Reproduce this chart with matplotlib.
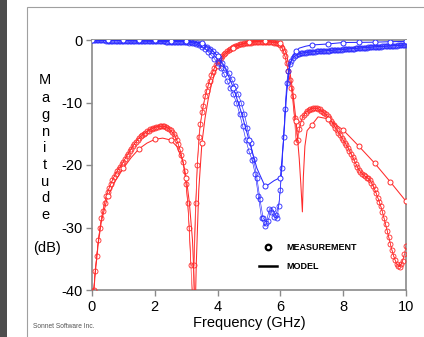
import matplotlib
matplotlib.use('Agg')
import matplotlib.pyplot as plt
import numpy as np
from matplotlib.lines import Line2D
from matplotlib.patches import Rectangle

plt.rcParams['font.family'] = ['Liberation Sans', 'DejaVu Sans']
plt.rcParams['axes.unicode_minus'] = False

# ---------------- data ----------------
meas_freq = [round(0.1 * i, 1) for i in range(101)]
meas2_freq = [round(0.05 + 0.1 * i, 2) for i in range(100)]

red_meas = [-44, -37, -32, -28.5, -26, -24.3, -23, -21.9, -21, -20.3,
            -19.5, -18.6, -17.8, -17.0, -16.3, -15.7, -15.2, -14.8, -14.5, -14.2,
            -14.0, -13.9, -13.8, -13.8, -14.0, -14.4, -15.0, -16.0, -17.5, -19.5,
            -23.0, -30.0, -42.0, -26.0, -15.5, -11.5, -9.0, -7.2, -5.6, -4.4,
            -3.5, -2.8, -2.2, -1.8, -1.4, -1.1, -0.9, -0.7, -0.6, -0.5,
            -0.4, -0.35, -0.3, -0.3, -0.3, -0.3, -0.3, -0.35, -0.4, -0.5,
            -0.8, -1.8, -3.7, -6.4, -9.0, -16.3, -14.2, -12.3, -11.6, -11.2,
            -11.0, -10.9, -11.0, -11.3, -11.7, -12.2, -12.9, -13.6, -14.4, -15.2,
            -16.0, -16.8, -17.7, -18.7, -19.8, -20.8, -21.4, -21.8, -22.1, -22.8,
            -23.9, -25.2, -26.6, -28.5, -30.5, -32.6, -34.5, -35.8, -36.3, -35.3,
            -33.0]

red_meas2 = [-40, -34.5, -30, -27.3, -25, -23.6, -22.4, -21.4, -20.6, -19.9,
             -19.0, -18.2, -17.4, -16.6, -16.0, -15.4, -15.0, -14.6, -14.3, -14.1,
             -13.9, -13.8, -13.8, -13.9, -14.2, -14.7, -15.5, -16.7, -18.4, -21.0,
             -26.0, -36.0, -36.0, -20.0, -13.5, -10.5, -8.2, -6.5, -5.1, -4.0,
             -3.2, -2.5, -2.0, -1.6, -1.3, -1.0, -0.8, -0.65, -0.55, -0.45,
             -0.4, -0.35, -0.3, -0.3, -0.3, -0.3, -0.32, -0.37, -0.45, -0.6,
             -1.2, -2.6, -5.0, -7.7, -12.5, -16.0, -13.2, -12.0, -11.4, -11.1,
             -10.9, -10.9, -11.1, -11.5, -11.9, -12.5, -13.2, -14.0, -14.8, -15.6,
             -16.4, -17.2, -18.2, -19.2, -20.3, -21.1, -21.6, -22.0, -22.4, -23.3,
             -24.5, -25.9, -27.5, -29.5, -31.5, -33.6, -35.2, -36.2, -35.9, -34.3]

blue_meas = [-0.05, -0.05, -0.05, -0.06, -0.07, -0.08, -0.08, -0.09, -0.1, -0.1,
             -0.1, -0.12, -0.13, -0.14, -0.15, -0.16, -0.17, -0.18, -0.19, -0.2,
             -0.2, -0.21, -0.22, -0.23, -0.24, -0.25, -0.26, -0.27, -0.28, -0.3,
             -0.35, -0.4, -0.5, -0.6, -0.8, -1.1, -1.4, -1.9, -2.4, -3.0,
             -3.7, -4.5, -5.4, -6.5, -7.6, -8.7, -10.0, -11.8, -13.8, -16.0,
             -17.8, -19.2, -21.5, -25.0, -28.5, -29.8, -29.0, -27.5, -28.3, -28.5,
             -24.0, -15.5, -6.8, -3.8, -2.8, -2.4, -2.2, -2.1, -2.0, -1.95,
             -1.9, -1.85, -1.8, -1.8, -1.75, -1.7, -1.66, -1.62, -1.58, -1.54,
             -1.5, -1.46, -1.42, -1.38, -1.34, -1.3, -1.26, -1.22, -1.18, -1.14,
             -1.1, -1.07, -1.04, -1.01, -0.98, -0.95, -0.92, -0.89, -0.86, -0.83,
             -0.8]

blue_meas2 = [-0.05, -0.05, -0.06, -0.07, -0.08, -0.08, -0.09, -0.1, -0.1, -0.11,
              -0.12, -0.13, -0.14, -0.15, -0.16, -0.17, -0.18, -0.19, -0.2, -0.2,
              -0.21, -0.22, -0.23, -0.24, -0.25, -0.26, -0.27, -0.28, -0.29, -0.3,
              -0.32, -0.36, -0.42, -0.5, -0.62, -0.8, -1.05, -1.4, -1.8, -2.3,
              -2.9, -3.6, -4.4, -5.3, -6.3, -7.4, -8.6, -10.0, -11.8, -14.0,
              -16.5, -19.0, -22.0, -25.5, -28.5, -29.2, -27.0, -27.0, -28.0, -26.5,
              -20.5, -11.0, -5.0, -3.3, -2.6, -2.3, -2.15, -2.05, -1.98, -1.92,
              -1.87, -1.83, -1.8, -1.78, -1.72, -1.68, -1.64, -1.6, -1.56, -1.52,
              -1.48, -1.44, -1.4, -1.36, -1.32, -1.28, -1.24, -1.2, -1.16, -1.12,
              -1.08, -1.05, -1.02, -0.99, -0.96, -0.93, -0.9, -0.87, -0.84, -0.81]

red_model_freq = [0.0, 0.1, 0.2, 0.3, 0.5, 0.75, 1.0, 1.25, 1.5, 1.75, 2.0, 2.25, 2.5,
                  2.7, 2.9, 3.0, 3.1, 3.2, 3.25, 3.28, 3.32, 3.4, 3.5, 3.6, 3.7, 3.8,
                  3.9, 4.0, 4.2, 4.5, 5.0, 5.5, 6.0, 6.1, 6.2, 6.3, 6.4, 6.5, 6.6,
                  6.65, 6.7, 6.73, 6.78, 6.85, 7.0, 7.2, 7.5, 8.0, 8.5, 9.0, 9.5, 10.0]
red_model = [-44, -37.5, -32.5, -29, -25, -22.5, -20.5, -18.8, -17.4, -16.5, -15.9, -15.7, -16.0,
             -17.0, -19.5, -22, -26, -32, -38, -45, -36, -24, -16.5, -12.5, -9.5, -7.2,
             -5.5, -4.2, -2.5, -1.2, -0.3, -0.2, -0.4, -0.9, -2.4, -5.0, -8.5, -13, -19,
             -23, -27.5, -22, -17, -14.5, -13.6, -12.3, -12.6, -14.4, -17.0, -19.7, -22.7, -25.8]

blue_model_freq = [0.0, 0.5, 1.0, 1.5, 2.0, 2.5, 3.0, 3.5, 3.75, 4.0, 4.25, 4.5, 4.75, 5.0,
                   5.25, 5.5, 5.6, 5.8, 6.0, 6.1, 6.2, 6.3, 6.4, 6.5, 6.6, 6.8, 7.0,
                   7.5, 8.0, 8.5, 9.0, 9.5, 10.0]
blue_model = [0.0, -0.01, -0.02, -0.03, -0.05, -0.08, -0.15, -0.5, -1.2, -2.6, -4.6, -7.6, -11.5, -16.0,
              -20.5, -23.3, -23.2, -22.5, -22.0, -16.0, -8.5, -4.0, -2.4, -1.8, -1.3, -1.0, -0.8,
              -0.64, -0.4, -0.38, -0.35, -0.27, -0.22]

x_ticks = [0, 2, 4, 6, 8, 10]
y_ticks = [0, -10, -20, -30, -40]

# ---------------- figure ----------------
W, H = 424, 337
fig = plt.figure(figsize=(W / 100, H / 100), dpi=100)
fig.patches.append(Rectangle((0, 0), 7 / W, 1, transform=fig.transFigure,
                             facecolor='#4d4d4d', edgecolor='none'))
fig.patches.append(Rectangle((27 / W, -0.1), 1.2, 1 - 7 / H + 0.1, transform=fig.transFigure,
                             fill=False, edgecolor='#a0a0a0', lw=0.8))

ax = fig.add_axes([92 / W, 1 - 290 / H, (406 - 92) / W, 250 / H])

RED = '#ff2a2a'
BLUE = '#2a2aff'


def sparse_mask(freqs):
    return [abs(f * 2 - round(f * 2)) < 1e-9 for f in freqs]


meas_style = dict(lw=0.45, marker='o', ms=3.6, mfc='none', mew=0.6, zorder=3)
ax.plot(meas_freq, red_meas, color=RED, mec=RED, **meas_style)
ax.plot(meas2_freq, red_meas2, color=RED, mec=RED, **meas_style)
ax.plot(red_model_freq, red_model, color=RED, lw=0.75, marker='o', ms=3.6, mfc='white',
        mec=RED, mew=0.7, markevery=sparse_mask(red_model_freq), zorder=3)
ax.plot(meas_freq, blue_meas, color=BLUE, mec=BLUE, **meas_style)
ax.plot(meas2_freq, blue_meas2, color=BLUE, mec=BLUE, **meas_style)
ax.plot(blue_model_freq, blue_model, color=BLUE, lw=0.75, marker='o', ms=3.6, mfc='white',
        mec=BLUE, mew=0.7, markevery=sparse_mask(blue_model_freq), zorder=3)

ax.set_xlim(0, 10)
ax.set_ylim(-40, 0)
ax.set_xticks(x_ticks)
ax.set_yticks(y_ticks)
for s in ax.spines.values():
    s.set_color('#8a8a8a')
    s.set_linewidth(1.2)
ax.tick_params(direction='out', length=4, width=1, color='#8a8a8a', labelsize=10.5,
               labelcolor='black', pad=3)

ax.set_xlabel('Frequency (GHz)', fontsize=10.5, labelpad=2)

# vertical stacked y label
letters = list('Magnitude')
ys = [80, 98, 115, 132, 148, 165, 182, 198, 215]
for ch, yy in zip(letters, ys):
    fig.text(45 / W, 1 - yy / H, ch, fontsize=10.5, ha='center', va='center')
fig.text(47 / W, 1 - 248 / H, '(dB)', fontsize=10.5, ha='center', va='center')

fig.text(33 / W, 1 - 326 / H, 'Sonnet Software Inc.', fontsize=4.8, color='#555555',
         ha='left', va='center')

handles = [Line2D([], [], ls='none', marker='o', ms=4, mfc='none', mec='black', mew=1.6),
           Line2D([], [], color='black', lw=1.8)]
ax.legend(handles, ['MEASUREMENT', 'MODEL'], loc='upper left',
          bbox_to_anchor=(259 / W, 1 - 243 / H), bbox_transform=fig.transFigure,
          frameon=False, prop={'weight': 'bold', 'size': 6.5}, handlelength=2.0,
          handletextpad=1.0, labelspacing=1.1, borderpad=0, borderaxespad=0)

fig.savefig('out.png', dpi=100)
